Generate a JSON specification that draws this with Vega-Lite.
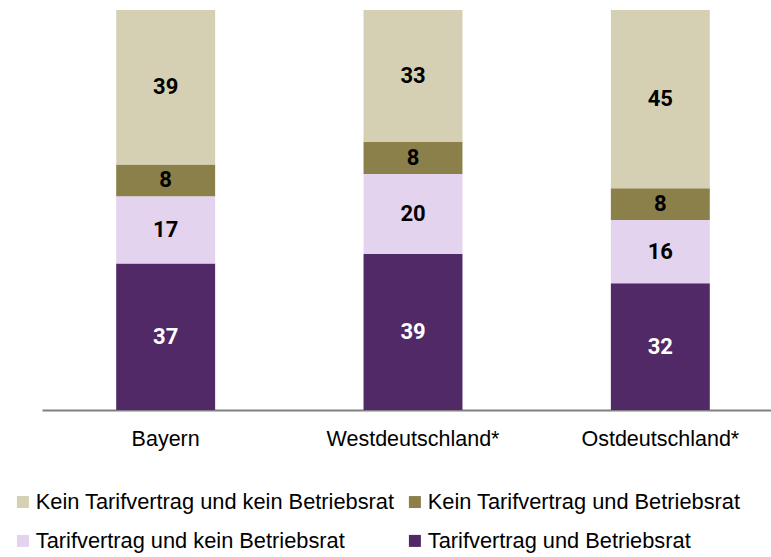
{
  "$schema": "https://vega.github.io/schema/vega-lite/v6.json",
  "autosize": "none",
  "width": 742,
  "height": 400,
  "padding": {"left": 42, "top": 10, "right": 0, "bottom": 147},
  "background": "white",
  "config": {"view": {"stroke": null}},
  "data": {
    "values": [
      {"region": "Bayern", "kat": "Tarifvertrag und Betriebsrat", "o": 1, "v": 37},
      {"region": "Bayern", "kat": "Tarifvertrag und kein Betriebsrat", "o": 2, "v": 17},
      {"region": "Bayern", "kat": "Kein Tarifvertrag und Betriebsrat", "o": 3, "v": 8},
      {"region": "Bayern", "kat": "Kein Tarifvertrag und kein Betriebsrat", "o": 4, "v": 39},
      {"region": "Westdeutschland*", "kat": "Tarifvertrag und Betriebsrat", "o": 1, "v": 39},
      {"region": "Westdeutschland*", "kat": "Tarifvertrag und kein Betriebsrat", "o": 2, "v": 20},
      {"region": "Westdeutschland*", "kat": "Kein Tarifvertrag und Betriebsrat", "o": 3, "v": 8},
      {"region": "Westdeutschland*", "kat": "Kein Tarifvertrag und kein Betriebsrat", "o": 4, "v": 33},
      {"region": "Ostdeutschland*", "kat": "Tarifvertrag und Betriebsrat", "o": 1, "v": 32},
      {"region": "Ostdeutschland*", "kat": "Tarifvertrag und kein Betriebsrat", "o": 2, "v": 16},
      {"region": "Ostdeutschland*", "kat": "Kein Tarifvertrag und Betriebsrat", "o": 3, "v": 8},
      {"region": "Ostdeutschland*", "kat": "Kein Tarifvertrag und kein Betriebsrat", "o": 4, "v": 45}
    ]
  },
  "transform": [
    {"joinaggregate": [{"op": "sum", "field": "v", "as": "total"}], "groupby": ["region"]},
    {"window": [{"op": "sum", "field": "v", "as": "cum"}], "groupby": ["region"], "sort": [{"field": "o", "order": "ascending"}], "frame": [null, 0]},
    {"calculate": "(datum.cum - datum.v / 2) / datum.total", "as": "mid"}
  ],
  "encoding": {
    "x": {
      "field": "region",
      "type": "nominal",
      "sort": ["Bayern", "Westdeutschland*", "Ostdeutschland*"],
      "scale": {"paddingInner": 0.6, "paddingOuter": 0.3},
      "axis": {
        "title": null,
        "labelAngle": 0,
        "labelFont": "Liberation Sans",
        "labelFontSize": 21.5,
        "labelColor": "black",
        "labelPadding": 18,
        "ticks": false,
        "domainColor": "#808080",
        "domainWidth": 2
      }
    }
  },
  "layer": [
    {
      "mark": {"type": "bar"},
      "encoding": {
        "y": {"field": "v", "type": "quantitative", "stack": "normalize", "axis": null, "scale": {"domain": [0, 1]}},
        "order": {"field": "o", "type": "quantitative", "sort": "ascending"},
        "color": {
          "field": "kat",
          "type": "nominal",
          "scale": {
            "domain": ["Kein Tarifvertrag und kein Betriebsrat", "Kein Tarifvertrag und Betriebsrat", "Tarifvertrag und kein Betriebsrat", "Tarifvertrag und Betriebsrat"],
            "range": ["#D5D0B3", "#8B7F4A", "#E4D3EE", "#512966"]
          },
          "legend": {
            "title": null,
            "orient": "none",
            "legendX": -30,
            "legendY": 481,
            "columns": 2,
            "direction": "horizontal",
            "symbolType": "square",
            "symbolSize": 144,
            "symbolStrokeWidth": 0,
            "labelFont": "Liberation Sans",
            "labelFontSize": 21.8,
            "labelColor": "black",
            "labelOffset": 2,
            "labelLimit": 500,
            "rowPadding": 16,
            "columnPadding": 9
          }
        }
      }
    },
    {
      "mark": {"type": "text", "font": "Roboto", "fontWeight": "bold", "fontSize": 22, "baseline": "middle"},
      "encoding": {
        "y": {"field": "mid", "type": "quantitative"},
        "text": {"field": "v", "type": "quantitative"},
        "color": {"condition": {"test": "datum.o == 1", "value": "white"}, "value": "black"}
      }
    }
  ]
}
